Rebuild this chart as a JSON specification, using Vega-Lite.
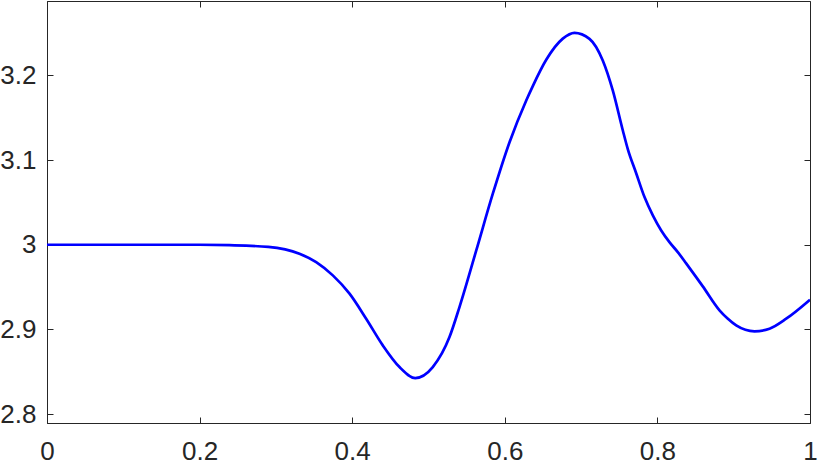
{
  "$schema": "https://vega.github.io/schema/vega-lite/v6.json",
  "width": 763,
  "height": 422,
  "autosize": {"type": "none"},
  "padding": {"left": 47, "top": 1, "right": 20, "bottom": 44},
  "background": "white",
  "config": {
    "view": {"stroke": "#262626", "strokeWidth": 1},
    "axis": {
      "domainColor": "#262626",
      "tickColor": "#262626",
      "labelColor": "#262626",
      "labelFont": "Liberation Sans",
      "labelFontSize": 26,
      "labelFlush": false,
      "grid": false,
      "tickSize": -6,
      "title": null
    }
  },
  "data": {
    "values": [
      {"x": 0, "y": 3.0},
      {"x": 0.1, "y": 3.0},
      {"x": 0.2, "y": 3.0},
      {"x": 0.2392, "y": 2.9995},
      {"x": 0.29, "y": 2.9975},
      {"x": 0.3309, "y": 2.9894},
      {"x": 0.3528, "y": 2.9795},
      {"x": 0.3746, "y": 2.9638},
      {"x": 0.3965, "y": 2.9422},
      {"x": 0.4183, "y": 2.9126},
      {"x": 0.4401, "y": 2.8811},
      {"x": 0.462, "y": 2.8555},
      {"x": 0.4826, "y": 2.8425},
      {"x": 0.5056, "y": 2.8555},
      {"x": 0.5275, "y": 2.8909},
      {"x": 0.5406, "y": 2.9264},
      {"x": 0.5625, "y": 2.993},
      {"x": 0.5843, "y": 3.0603},
      {"x": 0.6062, "y": 3.1212},
      {"x": 0.6281, "y": 3.1705},
      {"x": 0.6367, "y": 3.1875},
      {"x": 0.6543, "y": 3.2185},
      {"x": 0.676, "y": 3.2435},
      {"x": 0.6913, "y": 3.2504},
      {"x": 0.711, "y": 3.2433},
      {"x": 0.7284, "y": 3.2177},
      {"x": 0.7415, "y": 3.1823},
      {"x": 0.7547, "y": 3.135},
      {"x": 0.7612, "y": 3.113},
      {"x": 0.7722, "y": 3.0845},
      {"x": 0.7831, "y": 3.0563},
      {"x": 0.794, "y": 3.0347},
      {"x": 0.805, "y": 3.0169},
      {"x": 0.8158, "y": 3.0031},
      {"x": 0.8267, "y": 2.9913},
      {"x": 0.8377, "y": 2.978},
      {"x": 0.8508, "y": 2.9618},
      {"x": 0.8595, "y": 2.9508},
      {"x": 0.8814, "y": 2.9225},
      {"x": 0.892, "y": 2.9128},
      {"x": 0.9033, "y": 2.9047},
      {"x": 0.9273, "y": 2.8977},
      {"x": 0.9469, "y": 2.9008},
      {"x": 0.9688, "y": 2.9126},
      {"x": 1.0, "y": 2.9351}
    ]
  },
  "layer": [
    {
      "mark": {"type": "line", "opacity": 0},
      "encoding": {
        "x": {
          "field": "x", "type": "quantitative",
          "scale": {"domain": [0, 1], "nice": false},
          "axis": {"orient": "top", "values": [0, 0.2, 0.4, 0.6, 0.8, 1], "labels": false, "domain": false}
        },
        "y": {
          "field": "y", "type": "quantitative",
          "scale": {"domain": [2.7894, 3.288], "nice": false, "zero": false},
          "axis": {"orient": "right", "values": [2.8, 2.9, 3.0, 3.1, 3.2], "labels": false, "domain": false}
        }
      }
    },
    {
      "mark": {"type": "line", "color": "#0000ff", "strokeWidth": 2.7, "interpolate": "monotone", "clip": true},
      "encoding": {
        "x": {
          "field": "x", "type": "quantitative",
          "scale": {"domain": [0, 1], "nice": false},
          "axis": {"orient": "bottom", "values": [0, 0.2, 0.4, 0.6, 0.8, 1], "labelPadding": 21, "labelExpr": "datum.value == 0 || datum.value == 1 ? format(datum.value, 'd') : format(datum.value, '.1f')"}
        },
        "y": {
          "field": "y", "type": "quantitative",
          "scale": {"domain": [2.7894, 3.288], "nice": false, "zero": false},
          "axis": {"orient": "left", "values": [2.8, 2.9, 3.0, 3.1, 3.2], "labelPadding": 17, "labelExpr": "datum.value == 3 ? '3' : format(datum.value, '.1f')"}
        }
      }
    }
  ],
  "resolve": {"axis": {"x": "independent", "y": "independent"}}
}
